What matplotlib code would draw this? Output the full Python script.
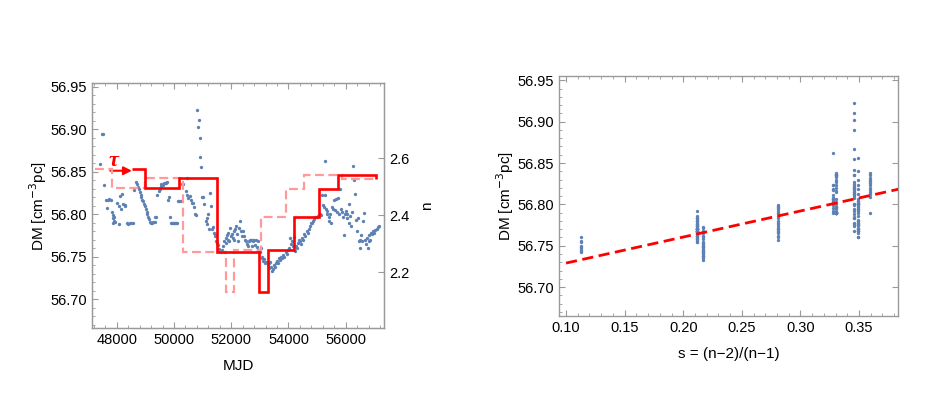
import numpy as np
import matplotlib
matplotlib.use("Agg")
import matplotlib.pyplot as plt
from matplotlib.ticker import MultipleLocator, FixedLocator

plt.rcParams["font.family"] = ["Liberation Sans", "DejaVu Sans"]
plt.rcParams["font.size"] = 10.5

mjd = [
    47417, 47480, 47510, 47556, 47630, 47680, 47730, 47790, 47650, 47836,
    47860, 47880, 47900, 47920, 47950, 47870, 48000, 48090, 48140, 48196,
    48091, 48115, 48210, 48290, 48280, 48350, 48400, 48450, 48500, 48560,
    48605, 48680, 48710, 48740, 48770, 48800, 48830, 48860, 48890, 48920,
    48950, 48980, 49010, 49040, 49070, 49100, 49130, 49165, 49200, 49240,
    49280, 49320, 49340, 49380, 49420, 49460, 49500, 49530, 49560, 49600,
    49640, 49680, 49720, 49760, 49780, 49825, 49860, 49900, 49930, 49960,
    49990, 50020, 50060, 50090, 50150, 50190, 50230, 50270, 50305, 50410,
    50445, 50456, 50500, 50550, 50580, 50620, 50665, 50690, 50735, 50780,
    50805, 50829, 50864, 50899, 50921, 50956, 50990, 51020, 51060, 51110,
    51143, 51165, 51200, 51235, 51270, 51283, 51320, 51350, 51390, 51420,
    51435, 51470, 51510, 51550, 51560, 51600, 51640, 51690, 51720, 51750,
    51780, 51800, 51830, 51860, 51880, 51900, 51930, 51960, 51990, 52020,
    52050, 52080, 52110, 52140, 52170, 52200, 52230, 52260, 52308, 52330,
    52360, 52400, 52440, 52480, 52520, 52540, 52580, 52610, 52640, 52680,
    52710, 52740, 52770, 52800, 52830, 52860, 52890, 52920, 52950, 52990,
    53010, 53040, 53060, 53090, 53120, 53150, 53180, 53220, 53290, 53310,
    53330, 53370, 53400, 53440, 53470, 53500, 53530, 53560, 53600, 53640,
    53680, 53705, 53740, 53780, 53820, 53860, 53900, 53940, 53980, 54020,
    54055, 54090, 54113, 54150, 54180, 54220, 54260, 54300, 54340, 54380,
    54400, 54430, 54470, 54500, 54540, 54580, 54636, 54670, 54700, 54740,
    54780, 54820, 54867, 54900, 54940, 54980, 55020, 55060, 55100, 55130,
    55160, 55200, 55230, 55265, 55287, 55300, 55330, 55360, 55400, 55430,
    55460, 55485, 55520, 55550, 55580, 55620, 55650, 55690, 55730, 55780,
    55810, 55840, 55870, 55900, 55930, 55960, 56000, 56030, 56060, 56100,
    56130, 56160, 56200, 56230, 56255, 56300, 56335, 56370, 56400, 56430,
    56460, 56490, 56510, 56540, 56580, 56620, 56650, 56680, 56710, 56740,
    56770, 56800, 56830, 56860, 56890, 56920, 56950, 56980, 57020, 57080,
    57120, 57150,
]
dm = [
    56.859, 56.894, 56.894, 56.834, 56.816, 56.817, 56.818, 56.817, 56.807, 56.803,
    56.799, 56.795, 56.792, 56.797, 56.791, 56.790, 56.813, 56.810, 56.806, 56.824,
    56.788, 56.821, 56.812, 56.809, 56.811, 56.789, 56.788, 56.789, 56.789, 56.790,
    56.828, 56.838, 56.835, 56.832, 56.829, 56.826, 56.823, 56.820, 56.817, 56.815,
    56.812, 56.809, 56.806, 56.803, 56.800, 56.797, 56.794, 56.791, 56.790, 56.790,
    56.791, 56.791, 56.796, 56.797, 56.823, 56.827, 56.830, 56.833, 56.835, 56.834,
    56.836, 56.837, 56.836, 56.838, 56.816, 56.820, 56.797, 56.789, 56.789, 56.789,
    56.789, 56.789, 56.789, 56.790, 56.815, 56.815, 56.815, 56.835, 56.835, 56.827,
    56.842, 56.822, 56.819, 56.821, 56.817, 56.813, 56.813, 56.808, 56.800, 56.799,
    56.922, 56.902, 56.911, 56.890, 56.867, 56.855, 56.820, 56.820, 56.812, 56.792,
    56.795, 56.788, 56.800, 56.783, 56.825, 56.810, 56.783, 56.785, 56.778, 56.776,
    56.774, 56.768, 56.766, 56.764, 56.759, 56.757, 56.755, 56.758, 56.762, 56.768,
    56.755, 56.772, 56.766, 56.775, 56.770, 56.778, 56.768, 56.784, 56.774, 56.776,
    56.772, 56.780, 56.770, 56.782, 56.786, 56.776, 56.768, 56.784, 56.792, 56.780,
    56.774, 56.780, 56.774, 56.770, 56.768, 56.765, 56.762, 56.768, 56.770, 56.770,
    56.762, 56.770, 56.768, 56.770, 56.764, 56.770, 56.761, 56.768, 56.758, 56.756,
    56.755, 56.760, 56.750, 56.748, 56.745, 56.747, 56.743, 56.744, 56.740, 56.737,
    56.742, 56.744, 56.738, 56.733, 56.735, 56.740, 56.738, 56.743, 56.745, 56.742,
    56.748, 56.746, 56.750, 56.748, 56.752, 56.750, 56.755, 56.753, 56.758, 56.760,
    56.772, 56.765, 56.768, 56.762, 56.773, 56.757, 56.762, 56.760, 56.766, 56.770,
    56.768, 56.765, 56.772, 56.770, 56.776, 56.774, 56.780, 56.778, 56.783, 56.786,
    56.789, 56.790, 56.792, 56.794, 56.796, 56.797, 56.798, 56.799, 56.800, 56.799,
    56.823, 56.811, 56.808, 56.862, 56.823, 56.806, 56.800, 56.804, 56.796, 56.792,
    56.800, 56.790, 56.808, 56.806, 56.817, 56.805, 56.818, 56.803, 56.819, 56.800,
    56.829, 56.806, 56.802, 56.797, 56.775, 56.800, 56.804, 56.795, 56.800, 56.790,
    56.812, 56.798, 56.786, 56.803, 56.856, 56.840, 56.824, 56.793, 56.780, 56.795,
    56.768, 56.770, 56.760, 56.775, 56.768, 56.792, 56.801, 56.770, 56.765, 56.772,
    56.760, 56.768, 56.775, 56.770, 56.778, 56.776, 56.780, 56.778, 56.781, 56.783,
    56.785, 56.786,
]

# braking index steps (solid) and the tau-shifted copy (dashed)
step_edges = [48520, 48999, 50165, 51493, 52970, 53274, 54204, 55077, 55720, 57060, 57075]
step_n = [2.564, 2.495, 2.532, 2.273, 2.130, 2.278, 2.393, 2.493, 2.542, 2.529]
shift_edges = [47240, 47829, 48995, 50323, 51800, 52104, 53034, 53907, 54550, 55860, 57060]
shift_n = [2.564, 2.495, 2.532, 2.273, 2.130, 2.278, 2.393, 2.493, 2.542, 2.529]

# s = (n-2)/(n-1) of each solid step
step_s = [0.359, 0.330, 0.346, 0.212, 0.113, 0.217, 0.281, 0.328, 0.349]

# linear fit drawn on the right panel
fit_slope = 0.315
fit_icpt = 56.6975
fit_range = [0.10, 0.385]

blue = "#5E81B5"
frame = "#9a9a9a"

fig = plt.figure(figsize=(9.26, 4.2), dpi=100)
ax1 = fig.add_axes([0.0994, 0.219, 0.3153, 0.583])
ax2 = fig.add_axes([0.6037, 0.2476, 0.3661, 0.571])


def style(ax):
    for sp in ax.spines.values():
        sp.set_color(frame)
        sp.set_linewidth(1.0)
    ax.tick_params(which="both", direction="in", color=frame, labelcolor="black",
                   top=True, labelsize=10.5)
    ax.tick_params(which="major", length=4, width=0.8)
    ax.tick_params(which="minor", length=2.2, width=0.6)


# left panel
ax1.plot(mjd, dm, "o", color=blue, ms=2.4, mew=0, zorder=3)
ax1.set_xlim(47137, 57338)
ax1.set_ylim(56.666, 56.954)
ax1.xaxis.set_major_locator(MultipleLocator(2000))
ax1.xaxis.set_minor_locator(MultipleLocator(400))
ax1.yaxis.set_major_locator(MultipleLocator(0.05))
ax1.yaxis.set_minor_locator(MultipleLocator(0.01))
ax1.yaxis.set_major_formatter(plt.FormatStrFormatter("%.2f"))
ax1.set_xlabel("MJD", fontsize=11, labelpad=9)
ax1.set_ylabel("DM [cm$^{-3}$pc]", fontsize=11, labelpad=1)
style(ax1)
ax1.tick_params(right=False)

axn = ax1.twinx()
axn.set_ylim(2.0046, 2.864)
axn.yaxis.set_major_locator(FixedLocator([2.2, 2.4, 2.6]))
axn.yaxis.set_major_formatter(plt.FormatStrFormatter("%.1f"))
axn.stairs(shift_n, shift_edges, baseline=None, color="#ff9a9a", lw=1.6,
           linestyle=(0, (4, 2)), zorder=4)
axn.stairs(step_n, step_edges, baseline=None, color="red", lw=1.9, zorder=5)
for sp in axn.spines.values():
    sp.set_color(frame)
axn.tick_params(which="both", direction="in", color=frame, labelsize=10.5,
                length=4, width=0.8)
axn.set_ylabel("n", fontsize=11, labelpad=8)

ax1.annotate("", xy=(48530, 56.851), xytext=(47776, 56.851),
             arrowprops=dict(arrowstyle="-|>", color="red", lw=1.5,
                             mutation_scale=12, shrinkA=0, shrinkB=0))
ax1.text(47880, 56.851, "τ", color="red", fontsize=16, fontstyle="italic",
         fontweight="bold", family="Liberation Serif", ha="center", va="bottom")

# right panel: each DM point placed at s of the step it falls in
s_pts, dm_pts = [], []
for t, d in zip(mjd, dm):
    for k in range(len(step_s)):
        if step_edges[k] <= t < step_edges[k + 1]:
            s_pts.append(step_s[k])
            dm_pts.append(d)
ax2.plot(s_pts, dm_pts, "o", color=blue, ms=2.4, mew=0, zorder=3)
xs = np.array(fit_range)
ax2.plot(xs, fit_icpt + fit_slope * xs, color="red", lw=2.0,
         linestyle=(0, (4, 2)), zorder=4, clip_on=True)
ax2.set_xlim(0.094, 0.3833)
ax2.set_ylim(56.665, 56.955)
ax2.xaxis.set_major_locator(MultipleLocator(0.05))
ax2.xaxis.set_minor_locator(MultipleLocator(0.01))
ax2.yaxis.set_major_locator(MultipleLocator(0.05))
ax2.yaxis.set_minor_locator(MultipleLocator(0.01))
ax2.xaxis.set_major_formatter(plt.FormatStrFormatter("%.2f"))
ax2.yaxis.set_major_formatter(plt.FormatStrFormatter("%.2f"))
ax2.set_xlabel("s = (n\u22122)/(n\u22121)", fontsize=11, labelpad=9)
ax2.set_ylabel("DM [cm$^{-3}$pc]", fontsize=11, labelpad=1)
style(ax2)
ax2.tick_params(right=True)

fig.savefig("out.png", dpi=100)
